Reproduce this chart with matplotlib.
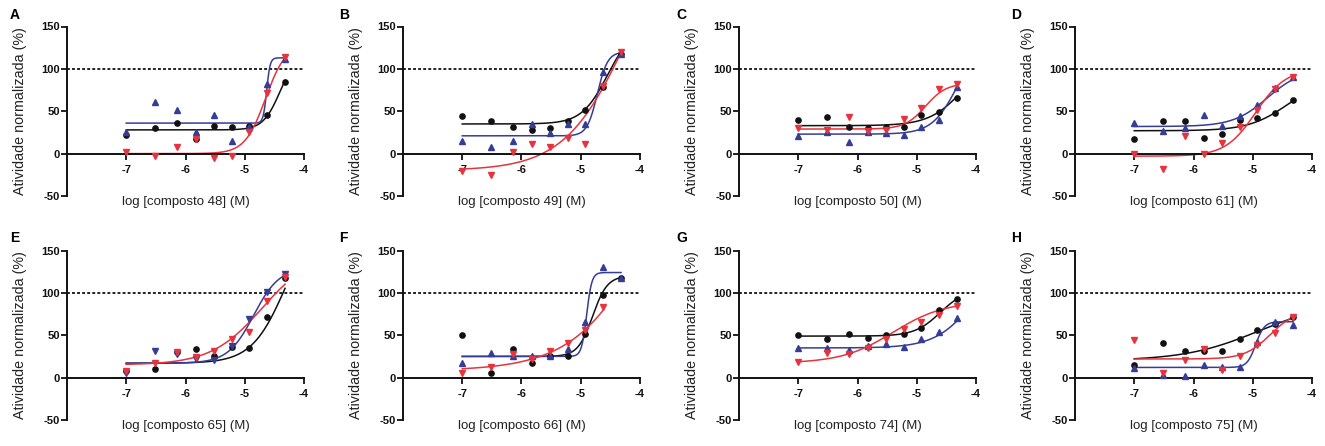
import numpy as np
import matplotlib
matplotlib.use("Agg")
import matplotlib.pyplot as plt

plt.rcParams["font.family"] = ["Liberation Sans", "DejaVu Sans"]
plt.rcParams["axes.unicode_minus"] = False

# log10 of the tested concentrations (M)
log_conc = [-7.0, -6.52, -6.15, -5.82, -5.52, -5.22, -4.92, -4.62, -4.32]
compounds = ["48", "49", "50", "61", "65", "66", "74", "75"]
panel_letters = ["A", "B", "C", "D", "E", "F", "G", "H"]

nan = np.nan
# normalized activity (%) per panel, one row per compound
black_resp = [
    [22, 30, 36, 17, 33, 32, 33, 46, 85],
    [44, 39, 32, 28, 30, 39, 51, 79, 118],
    [40, 43, 32, 30, 32, 32, 45, 49, 66],
    [17, 38, 38, 19, 23, 40, 42, 48, 63],
    [8, 10, 30, 34, 25, 36, 35, 71, 118],
    [50, 6, 34, 17, 26, 25, 52, 98, 118],
    [50, 45, 51, 47, 50, 52, 59, 80, 93],
    [15, 41, 32, 31, 32, 46, 56, 63, 71],
]
blue_resp = [
    [25, 61, 52, 25, 45, 15, 32, 82, 112],
    [15, 8, 15, 35, 24, 35, 35, 96, 118],
    [21, 25, 14, 25, 24, 22, 31, 40, 79],
    [36, 27, 30, 46, 33, 44, 57, 77, 90],
    [5, 32, 28, 22, 21, 37, 69, 101, 122],
    [17, 29, 26, 25, 26, 34, 66, 130, 117],
    [35, 35, 33, 37, 40, 36, 46, 54, 70],
    [11, 3, 2, 15, 12, 12, 42, 66, 62],
]
red_resp = [
    [2, -3, 8, 17, -5, -3, 26, 71, 114],
    [-20, -25, 2, 11, 8, 18, 11, 80, 120],
    [30, 28, 43, 27, 28, 41, 54, 76, 82],
    [0, -18, 21, -1, 12, 31, 52, 76, 90],
    [8, 17, 30, 24, 32, 46, 54, 90, 119],
    [6, 12, 28, 22, 32, 41, 56, 83, nan],
    [19, 29, 28, 35, 46, 57, 66, 74, 84],
    [44, 5, 21, 34, 9, 25, 38, 53, 71],
]

# four-parameter fits: bottom, top, logEC50, Hill slope
black_fit = [
    (28, 120, -4.40, 3.0), (35, 150, -4.55, 2.0), (33, 120, -4.20, 1.5),
    (27, 90, -4.40, 1.3), (17, 200, -4.30, 1.5), (25, 120, -4.80, 3.5),
    (49, 105, -4.60, 2.0), (20, 90, -4.90, 0.7),
]
blue_fit = [
    (36, 113, -4.63, 15.0), (21, 120, -4.72, 5.0), (23, 140, -4.30, 2.0),
    (32, 100, -4.75, 1.5), (17, 130, -4.85, 2.0), (25, 124, -4.90, 10.0),
    (35, 150, -4.00, 1.3), (12, 66, -4.95, 6.0),
]
red_fit = [
    (0, 130, -4.65, 2.5), (-20, 300, -4.18, 0.8), (29, 83, -4.85, 2.5),
    (-3, 100, -4.95, 1.7), (15, 150, -4.70, 1.0), (8, 400, -3.62, 0.65),
    (17, 90, -5.40, 1.0), (22, 80, -4.70, 2.0),
]
blue_marker = ["^", "^", "^", "^", "v", "^", "^", "^"]

BLACK = "#111111"
BLUE = "#363d96"
RED = "#e6343f"


def hill_curve(x, bottom, top, log_ec50, slope):
    return bottom + (top - bottom) / (1 + 10 ** ((log_ec50 - x) * slope))


W, H = 1325, 446
fig = plt.figure(figsize=(W / 100, H / 100), dpi=100)
col_left = [67, 403, 739, 1075]
row_top = [26.5, 250.5]
ax_w, ax_h = 237, 169.5

for i, comp in enumerate(compounds):
    r, c = divmod(i, 4)
    left = col_left[c] / W
    bottom = 1 - (row_top[r] + ax_h) / H
    ax = fig.add_axes([left, bottom, ax_w / W, ax_h / H])
    ax.set_xlim(-8, -4)
    ax.set_ylim(-50, 150)

    ax.axhline(100, color=BLACK, lw=1.3, ls=(0, (1.6, 1.2)), zorder=1)

    series = [
        (black_resp[i], black_fit[i], BLACK, "o", 3.8),
        (blue_resp[i], blue_fit[i], BLUE, blue_marker[i], 4.4),
        (red_resp[i], red_fit[i], RED, "v", 4.4),
    ]
    for resp, fit, color, marker, ms in series:
        y = np.array(resp, dtype=float)
        ok = ~np.isnan(y)
        x_end = np.array(log_conc)[ok].max()
        xs = np.linspace(log_conc[0], x_end, 300)
        ax.plot(xs, hill_curve(xs, *fit), color=color, lw=1.1, zorder=2,
                clip_on=False)
        ax.plot(np.array(log_conc)[ok], y[ok], ls="none", marker=marker,
                ms=ms, color=color, mec=color, zorder=3, clip_on=False)

    for side in ("top", "right"):
        ax.spines[side].set_visible(False)
    ax.spines["bottom"].set_position(("data", 0))
    for side in ("left", "bottom"):
        ax.spines[side].set_linewidth(1.4)
        ax.spines[side].set_color(BLACK)

    ax.set_xticks([-7, -6, -5, -4], labels=["-7", "-6", "-5", "-4"],
                  fontweight="bold")
    ax.set_yticks([-50, 0, 50, 100, 150],
                  labels=["-50", "0", "50", "100", "150"], fontweight="bold")
    ax.tick_params(axis="both", direction="out", length=4, width=1.3,
                   labelsize=8, colors=BLACK)
    ax.tick_params(axis="x", pad=4)
    ax.tick_params(axis="y", pad=1)

    ax.set_ylabel("Atividade normalizada (%)", fontsize=10.3, color="#222222")
    ax.yaxis.set_label_coords(-0.17, 0.5)
    ax.text(0.5, -0.035, f"log [composto {comp}] (M)", transform=ax.transAxes,
            ha="center", va="center", fontsize=9.5, color="#222222")

    lx = [10, 339, 676, 1011][c]
    ly = [15, 238][r]
    fig.text(lx / W, 1 - ly / H, panel_letters[i], fontsize=10,
             fontweight="bold", ha="left", va="center")

fig.savefig("out.png", dpi=100)
